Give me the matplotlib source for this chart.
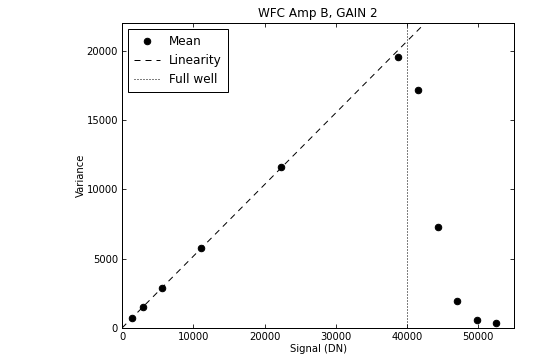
import matplotlib
matplotlib.use("Agg")
import matplotlib.pyplot as plt

# Data
signal = [1450, 2900, 5610, 11090, 22320, 38780, 41590, 44350, 47010, 49870, 52490]
variance = [750, 1520, 2870, 5800, 11590, 19540, 17200, 7320, 1980, 555, 362]
lin_x = [0, 55000]
lin_y = [0, 28450]
full_well = 40000
x_ticks = [0, 10000, 20000, 30000, 40000, 50000]
y_ticks = [0, 5000, 10000, 15000, 20000]

plt.rcParams['font.family'] = ['DejaVu Sans']
fig = plt.figure(figsize=(555 / 72, 363 / 72), dpi=72, facecolor='white')
ax = fig.add_axes([122 / 555, 1 - 328 / 363, (514 - 122) / 555, (328 - 23) / 363])

ax.plot(signal, variance, 'o', color='black', markersize=6.5, label='Mean', zorder=3)
ax.plot(lin_x, lin_y, color='black', linewidth=1, dashes=(6, 5), label='Linearity')
ax.axvline(full_well, color='black', linewidth=1, dashes=(1, 2), label='Full well')

ax.set_xlim(0, 55000)
ax.set_ylim(0, 22000)
ax.set_xticks(x_ticks)
ax.set_yticks(y_ticks)
ax.tick_params(direction='in', top=True, right=True, length=4, width=0.8, labelsize=10, pad=4)
for s in ax.spines.values():
    s.set_linewidth(1)

ax.set_title('WFC Amp B, GAIN 2', fontsize=12, pad=6)
ax.set_xlabel('Signal (DN)', fontsize=10, labelpad=2)
ax.set_ylabel('Variance', fontsize=10, labelpad=1)

leg = ax.legend(loc='upper left', numpoints=1, fontsize=12, fancybox=False,
                framealpha=1, edgecolor='black', borderaxespad=0.5,
                handlelength=2.2, handletextpad=0.7, borderpad=0.5, labelspacing=0.5)
leg.get_frame().set_linewidth(1)

fig.savefig('out.png', dpi=72, facecolor='white')
